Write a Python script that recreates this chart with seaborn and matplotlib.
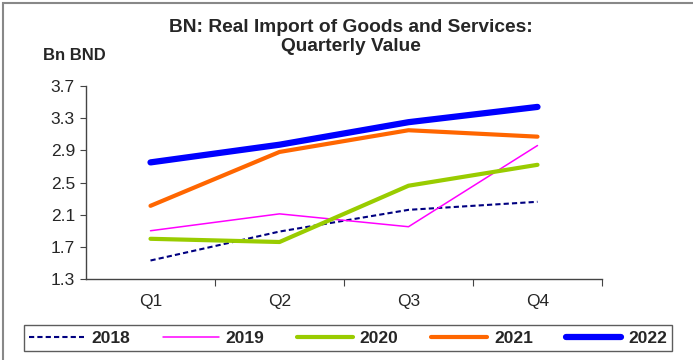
import matplotlib
matplotlib.use("Agg")
import matplotlib.pyplot as plt
import seaborn as sns
import pandas as pd
from matplotlib.patches import Rectangle
from matplotlib.ticker import FixedLocator, NullFormatter

quarters = ["Q1", "Q2", "Q3", "Q4"]
years = ["2018", "2019", "2020", "2021", "2022"]
v2018 = [1.53, 1.89, 2.16, 2.26]
v2019 = [1.90, 2.11, 1.95, 2.96]
v2020 = [1.80, 1.76, 2.46, 2.72]
v2021 = [2.21, 2.88, 3.15, 3.07]
v2022 = [2.75, 2.97, 3.25, 3.44]
yticks = [1.3, 1.7, 2.1, 2.5, 2.9, 3.3, 3.7]

series = {"2018": v2018, "2019": v2019, "2020": v2020, "2021": v2021, "2022": v2022}
styles = {
    "2018": dict(color="#000080", lw=1.5, ls=(0, (2.5, 1.5))),
    "2019": dict(color="#FF00FF", lw=1.1, ls="-"),
    "2020": dict(color="#99CC00", lw=3.0, ls="-"),
    "2021": dict(color="#FF6600", lw=3.0, ls="-"),
    "2022": dict(color="#0000FF", lw=4.5, ls="-"),
}

sns.set_style("white")
plt.rcParams["font.family"] = ["Liberation Sans", "DejaVu Sans"]

fig = plt.figure(figsize=(6.93, 3.60), dpi=100)
ax = fig.add_axes([86/693, 1-279/360, (602-86)/693, (279-86)/360])

for y in years:
    df = pd.DataFrame({"Quarter": quarters, "Value": series[y]})
    st = styles[y]
    sns.lineplot(data=df, x="Quarter", y="Value", ax=ax, color=st["color"],
                 linewidth=st["lw"], linestyle=st["ls"], label=y,
                 solid_capstyle="round", legend=False, sort=False)

ax.set_xlim(-0.5, 3.5)
ax.set_ylim(1.3, 3.7)
ax.set_yticks(yticks)
ax.set_yticklabels([f"{t:.1f}" for t in yticks])
ax.xaxis.set_major_locator(FixedLocator([0.5, 1.5, 2.5, 3.5]))
ax.xaxis.set_major_formatter(NullFormatter())
ax.xaxis.set_minor_locator(FixedLocator([0, 1, 2, 3]))
ax.set_xticklabels(quarters, minor=True)
ax.tick_params(axis="x", which="major", length=5, width=0.8, color="#444444", direction="out", bottom=True)
ax.tick_params(axis="x", which="minor", length=0, pad=11, labelsize=12.5)
ax.tick_params(axis="y", length=4, width=0.8, color="#444444", direction="out", left=True, labelsize=12.5, pad=4)
ax.set_xlabel("")
ax.set_ylabel("")
for s in ["top", "right"]:
    ax.spines[s].set_visible(False)
for s in ["left", "bottom"]:
    ax.spines[s].set_color("#444444")
    ax.spines[s].set_linewidth(1.0)

fig.text(351/693, 1-37/360, "BN: Real Import of Goods and Services:\nQuarterly Value",
         ha="center", va="center", fontsize=13.8, fontweight="bold", linespacing=1.12)
fig.text(43/693, 1-56/360, "Bn BND", ha="left", va="center", fontsize=12, fontweight="bold")

handles, labels = ax.get_legend_handles_labels()
leg = fig.legend(handles, labels, loc="center", bbox_to_anchor=(348/693, 1-338/360),
                 ncol=5, frameon=True, fancybox=False, edgecolor="#333333",
                 prop=dict(weight="bold", size=12.5), handlelength=3.2,
                 columnspacing=1.9, handletextpad=0.4, borderpad=0.3, borderaxespad=0)
leg.get_frame().set_linewidth(1.0)

fig.patches.append(Rectangle((3/693, -0.01), 1.1, 1 - 3/360 + 0.01, transform=fig.transFigure,
                             fill=False, edgecolor="#888888", linewidth=1.5))

fig.savefig("out.png", dpi=100)
